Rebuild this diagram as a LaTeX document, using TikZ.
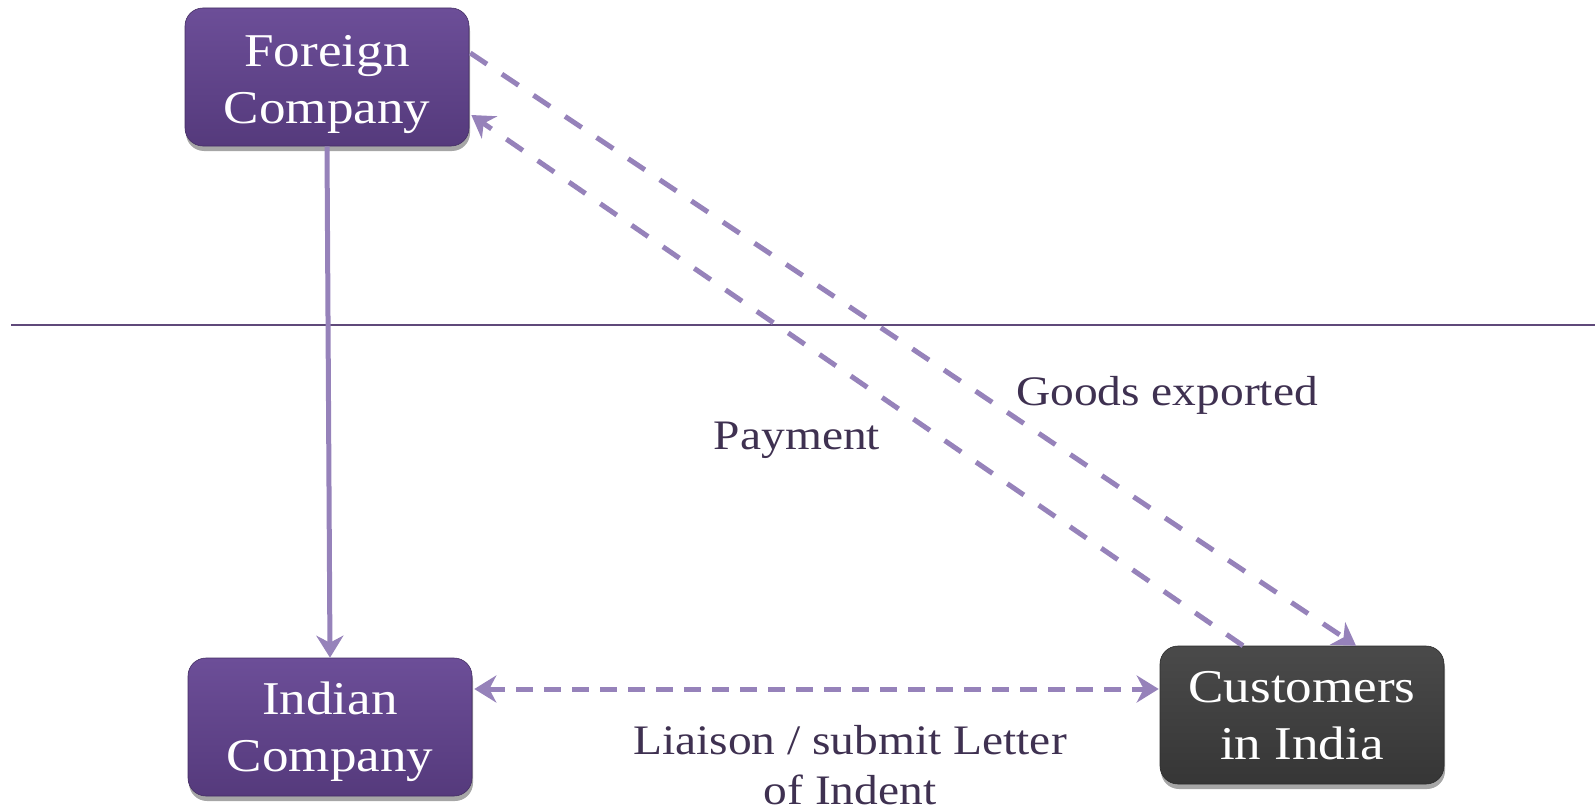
\documentclass[tikz,border=0pt]{standalone}
\usepackage{fontspec}
\setmainfont{Liberation Serif}[FakeStretch=1.13]
\usetikzlibrary{calc,shadows,arrows.meta}

\definecolor{boxtop}{HTML}{6C4E98}
\definecolor{boxbot}{HTML}{553A7C}
\definecolor{darktop}{HTML}{4A4A4A}
\definecolor{darkbot}{HTML}{363636}
\definecolor{flow}{HTML}{9682BA}
\definecolor{labeltext}{HTML}{3F3151}
\definecolor{divider}{HTML}{5F497A}

% two-line box caption, lowered a little inside its box (its box keeps its natural size)
\newcommand\boxcaption[2][7pt]{\raisebox{-#1}[\height][\depth]{\begin{tabular}{@{}c@{}}#2\end{tabular}}}

\tikzset{
  flowtip/.tip={Stealth[length=22pt, width=27pt, inset=7pt]},
  party/.style={rectangle, rounded corners=18pt, minimum width=284pt, minimum height=138pt,
    top color=boxtop, bottom color=boxbot, draw=boxbot!80!black, line width=0.6pt,
    drop shadow={shadow xshift=1pt, shadow yshift=-5pt, opacity=0.35, fill=black},
    text=white, align=center, font=\fontsize{47}{57}\selectfont, inner sep=0pt},
  customer/.style={party, top color=darktop, bottom color=darkbot, draw=darkbot!80!black},
  flowline/.style={draw=flow, line width=5pt},
  flowdash/.style={flowline, dash pattern=on 20pt off 18pt},
  shortdash/.style={flowline, dash pattern=on 17pt off 11pt},
  tip/.style={-flowtip},
  note/.style={text=labeltext, align=center, font=\fontsize{42}{50}\selectfont, inner sep=0pt}
}

\begin{document}
\begin{tikzpicture}[x=1pt, y=-1pt]
  \useasboundingbox (0,0) rectangle (1595,808);

  % border between abroad and India
  \coordinate (divL) at (11,325);
  \coordinate (divR) at (1595,325);
  \draw[divider, line width=1.6pt] (divL) -- (divR);

  % parties
  \node[party] (fc) at (327,77) {\boxcaption[7pt]{Foreign\\Company}};
  \node[party] (ic) at (330,727) {\boxcaption[5pt]{Indian\\Company}};
  \node[customer] (cu) at (1302,715) {\boxcaption[5pt]{Customers\\in India}};

  % foreign company sets up the Indian company
  \draw[flowline, tip] (fc.south) -- (ic.north);

  % goods go to customers, payment comes back
  \draw[flowdash, tip] ($(fc.east)+(1,-24)$) -- ($(cu.north)+(54,0)$);
  \draw[flowdash, tip] ($(cu.north)+(-59,0)$) -- ($(fc.east)+(2,38)$);

  % liaison between Indian company and customers
  \coordinate (liaL) at ($(ic.east)+(2,-38)$);
  \coordinate (liaR) at ($(cu.west)+(-1,-26)$);
  \draw[shortdash, flowtip-flowtip] (liaL) -- (liaR);

  % labels
  \node[note] (goods) at (1167,395) {Goods exported};
  \node[note] (pay) at (797,440) {Payment};
  \node[note, anchor=north] (lia) at (850,725) {Liaison / submit Letter\\of Indent};
\end{tikzpicture}
\end{document}
